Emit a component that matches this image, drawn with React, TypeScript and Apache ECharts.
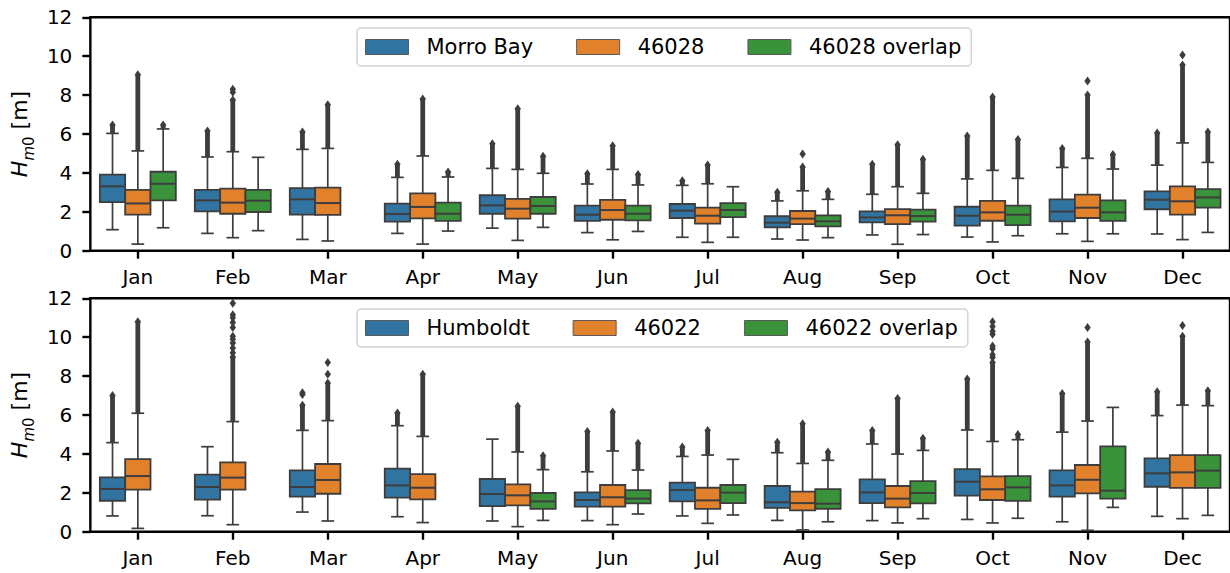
import { useEffect, useRef } from "react";
import * as echarts from "echarts";

const months = ["Jan", "Feb", "Mar", "Apr", "May", "Jun", "Jul", "Aug", "Sep", "Oct", "Nov", "Dec"];

// each box: [lower whisker, Q1, median, Q3, upper whisker]; null = no data that month
// fliers: top of the dense column of outliers above the upper whisker, null = none
// extra: isolated outliers as [month index, value]

// top panel
const morroBay = [
  [1.08, 2.5, 3.31, 3.91, 6.03], [0.89, 2.02, 2.59, 3.13, 4.82], [0.58, 1.85, 2.64, 3.22, 5.21],
  [0.89, 1.49, 1.89, 2.42, 3.77], [1.16, 1.9, 2.33, 2.85, 4.23], [0.93, 1.53, 1.85, 2.32, 3.43],
  [0.69, 1.68, 2.06, 2.4, 3.36], [0.6, 1.2, 1.44, 1.77, 2.56], [0.81, 1.46, 1.71, 2.02, 2.9],
  [0.7, 1.29, 1.8, 2.26, 3.69], [0.87, 1.51, 2.01, 2.64, 4.28], [0.86, 2.13, 2.62, 3.05, 4.4],
];
const morroBayFliers = [6.46, 6.15, 6.1, 4.45, 5.5, 3.95, 3.6, 3.0, 4.45, 5.9, 5.25, 6.05];

const buoy46028 = [
  [0.34, 1.85, 2.43, 3.13, 5.13], [0.67, 1.9, 2.47, 3.19, 5.09], [0.5, 1.84, 2.45, 3.24, 5.26],
  [0.34, 1.66, 2.25, 2.95, 4.87], [0.53, 1.65, 2.16, 2.66, 4.18], [0.56, 1.59, 2.09, 2.61, 4.18],
  [0.43, 1.39, 1.8, 2.21, 3.44], [0.55, 1.37, 1.65, 2.04, 3.08], [0.33, 1.37, 1.82, 2.14, 3.29],
  [0.45, 1.54, 1.97, 2.56, 4.13], [0.48, 1.68, 2.21, 2.88, 4.75], [0.57, 1.85, 2.54, 3.31, 5.54],
];
const buoy46028Fliers = [9.05, 7.75, 7.5, 7.8, 7.3, 5.4, 4.4, 4.3, 5.45, 7.9, 8.0, 9.55];
const buoy46028Extra = [[1, 8.15], [1, 8.3], [7, 4.97], [10, 8.73], [11, 10.06]];

const overlap46028 = [
  [1.18, 2.59, 3.44, 4.06, 6.26], [1.03, 1.99, 2.57, 3.13, 4.8], null,
  [1.01, 1.53, 1.9, 2.47, 3.79], [1.2, 1.9, 2.3, 2.76, 3.98], [0.99, 1.56, 1.9, 2.32, 3.38],
  [0.69, 1.73, 2.09, 2.45, 3.29], [0.67, 1.25, 1.51, 1.82, 2.64], [0.83, 1.49, 1.78, 2.11, 2.95],
  [0.77, 1.32, 1.85, 2.32, 3.72], [0.87, 1.53, 1.97, 2.59, 4.2], [0.94, 2.21, 2.74, 3.17, 4.54],
];
const overlap46028Fliers = [6.46, null, null, 4.05, 4.85, 3.92, null, 3.05, 4.7, 5.72, 4.95, 6.1];

// bottom panel
const humboldt = [
  [0.81, 1.59, 2.2, 2.79, 4.58], [0.82, 1.65, 2.3, 2.93, 4.37], [1.01, 1.8, 2.3, 3.15, 5.21],
  [0.77, 1.75, 2.38, 3.24, 5.45], [0.55, 1.32, 1.94, 2.71, 4.76], [0.57, 1.29, 1.63, 2.02, 3.08],
  [0.81, 1.56, 2.14, 2.52, 3.87], [0.58, 1.22, 1.51, 2.35, 4.06], [0.57, 1.47, 2.02, 2.69, 4.51],
  [0.63, 1.85, 2.57, 3.22, 5.23], [0.51, 1.8, 2.38, 3.15, 5.12], [0.79, 2.31, 3.0, 3.77, 5.97],
];
const humboldtFliers = [7.0, null, 6.5, 6.1, null, 5.15, 4.35, 4.6, 5.2, 7.85, 7.1, 7.2];
const humboldtExtra = [[2, 7.05], [2, 7.15]];

const buoy46022 = [
  [0.17, 2.16, 2.86, 3.73, 6.09], [0.36, 2.16, 2.78, 3.56, 5.66], [0.55, 1.95, 2.66, 3.48, 5.71],
  [0.47, 1.66, 2.26, 2.96, 4.9], [0.26, 1.35, 1.87, 2.43, 4.1], [0.36, 1.29, 1.77, 2.4, 4.15],
  [0.43, 1.17, 1.61, 2.26, 3.94], [0.09, 1.1, 1.47, 2.06, 3.51], [0.45, 1.25, 1.7, 2.35, 3.99],
  [0.45, 1.63, 2.18, 2.84, 4.64], [0.07, 1.97, 2.67, 3.43, 5.69], [0.67, 2.25, 3.05, 3.94, 6.51],
];
const buoy46022Fliers = [10.8, 8.98, 7.65, 8.1, 6.45, 6.15, 5.2, 5.55, 6.85, 8.7, 9.75, 10.05];
const buoy46022Extra = [
  [1, 9.2], [1, 9.45], [1, 9.7], [1, 9.9], [1, 10.05], [1, 10.5], [1, 10.75], [1, 11.0], [1, 11.15], [1, 11.75],
  [2, 8.1], [2, 8.7],
  [9, 8.95], [9, 9.1], [9, 9.4], [9, 9.55], [9, 10.15], [9, 10.3], [9, 10.55], [9, 10.8],
  [10, 10.5], [11, 10.6],
];

const overlap46022 = [
  null, null, null, null,
  [0.58, 1.17, 1.56, 1.99, 3.19], [0.91, 1.46, 1.7, 2.14, 3.17], [0.86, 1.47, 2.01, 2.4, 3.72],
  [0.51, 1.18, 1.44, 2.19, 3.67], [0.67, 1.46, 1.99, 2.6, 4.18], [0.69, 1.58, 2.28, 2.86, 4.73],
  [1.25, 1.7, 2.11, 4.39, 6.39], [0.84, 2.25, 3.14, 3.94, 6.48],
];
const overlap46022Fliers = [null, null, null, null, 3.9, 4.55, null, 4.1, 4.8, 5.0, null, 7.25];

const BLUE = "#3274a1";
const ORANGE = "#e1812c";
const GREEN = "#3a923a";
const GRAY = "#3d3d3d";
const FONT = "DejaVu Sans";

function diamond(x: number, y: number) {
  return {
    type: "polygon",
    shape: { points: [[x, y - 4.5], [x + 3.2, y], [x, y + 4.5], [x - 3.2, y]] },
    style: { fill: GRAY },
  };
}

function boxSeries(name: string, grid: number, slot: number, color: string, boxes: any[], fliers: any[]) {
  const data: number[][] = [];
  boxes.forEach((b, i) => {
    if (b) data.push([i, ...b, fliers[i] ?? b[4]]);
  });
  return {
    type: "custom",
    name,
    xAxisIndex: grid,
    yAxisIndex: grid,
    itemStyle: { color },
    encode: { x: 0, y: [1, 2, 3, 4, 5, 6] },
    data,
    renderItem: (_params: any, api: any) => {
      const i = api.value(0);
      const w = (api.size([1, 0])[0] * 0.8) / 3;
      const cx = api.coord([i, 0])[0] + slot * w;
      const py = (k: number) => api.coord([i, api.value(k)])[1];
      const lo = py(1), q1 = py(2), med = py(3), q3 = py(4), hi = py(5);
      const ln = { stroke: GRAY, lineWidth: 1.7 };
      const children: any[] = [];
      if (api.value(6) > api.value(5)) {
        const top = py(6);
        children.push({ type: "rect", shape: { x: cx - 2.4, y: top, width: 4.8, height: hi - top }, style: { fill: GRAY } });
        children.push(diamond(cx, top));
      }
      children.push(
        { type: "line", shape: { x1: cx, y1: q1, x2: cx, y2: lo }, style: ln },
        { type: "line", shape: { x1: cx, y1: q3, x2: cx, y2: hi }, style: ln },
        { type: "line", shape: { x1: cx - w / 4, y1: lo, x2: cx + w / 4, y2: lo }, style: ln },
        { type: "line", shape: { x1: cx - w / 4, y1: hi, x2: cx + w / 4, y2: hi }, style: ln },
        { type: "rect", shape: { x: cx - w / 2, y: q3, width: w, height: q1 - q3 }, style: { fill: color, stroke: GRAY, lineWidth: 1.8 } },
        { type: "line", shape: { x1: cx - w / 2, y1: med, x2: cx + w / 2, y2: med }, style: { stroke: GRAY, lineWidth: 2 } }
      );
      return { type: "group", children };
    },
  };
}

function extraSeries(grid: number, slot: number, points: number[][]) {
  return {
    type: "custom",
    xAxisIndex: grid,
    yAxisIndex: grid,
    data: points,
    renderItem: (_params: any, api: any) => {
      const i = api.value(0);
      const w = (api.size([1, 0])[0] * 0.8) / 3;
      const p = api.coord([i, api.value(1)]);
      return diamond(p[0] + slot * w, p[1]);
    },
  };
}

function legend(names: string[], top: number) {
  return {
    data: names,
    left: 357,
    top,
    orient: "horizontal",
    icon: "rect",
    itemWidth: 43,
    itemHeight: 15,
    itemGap: 43,
    padding: [8, 10, 8, 8],
    borderColor: "#d4d4d4",
    borderWidth: 1.5,
    borderRadius: 4,
    backgroundColor: "rgba(255,255,255,0.8)",
    selectedMode: false,
    itemStyle: { borderColor: "#5a5a5a", borderWidth: 1 },
    textStyle: { fontFamily: FONT, fontSize: 21, color: "#000", lineHeight: 22, padding: [0, 0, 0, 13] },
  };
}

function xAxis(grid: number) {
  return {
    gridIndex: grid,
    type: "category",
    data: months,
    axisLine: { show: false },
    axisTick: { show: true, alignWithLabel: true, length: 8, lineStyle: { color: "#000", width: 2.4 } },
    axisLabel: { interval: 0, fontFamily: FONT, fontSize: 20, color: "#000", margin: 16 },
    splitLine: { show: false },
  };
}

function yAxis(grid: number) {
  return {
    gridIndex: grid,
    type: "value",
    min: 0,
    max: 12,
    interval: 2,
    axisLine: { show: false },
    axisTick: { show: true, length: 8, lineStyle: { color: "#000", width: 2.4 } },
    axisLabel: { fontFamily: FONT, fontSize: 20, color: "#000", margin: 18 },
    splitLine: { show: false },
    name: "{h|H}{s|m}{z|0}{n| [m]}",
    nameLocation: "middle",
    nameGap: 52,
    nameTextStyle: {
      fontFamily: FONT,
      color: "#000",
      rich: {
        h: { fontFamily: FONT, fontSize: 22, fontStyle: "italic", lineHeight: 28, verticalAlign: "top", color: "#000" },
        s: { fontFamily: FONT, fontSize: 15, fontStyle: "italic", lineHeight: 14, verticalAlign: "bottom", color: "#000" },
        z: { fontFamily: FONT, fontSize: 15, lineHeight: 14, verticalAlign: "bottom", color: "#000" },
        n: { fontFamily: FONT, fontSize: 22, lineHeight: 28, verticalAlign: "top", color: "#000" },
      },
    },
  };
}

export default function App() {
  const chartRef = useRef<HTMLDivElement>(null);

  useEffect(() => {
    if (!chartRef.current) return;
    const chart = echarts.init(chartRef.current, null, { renderer: "svg" });

    const gridBase = { left: 88.5, width: 1150, height: 233.4, show: true, borderColor: "#000", borderWidth: 2.4, backgroundColor: "#fff" };

    chart.setOption({
      animation: false,
      backgroundColor: "#fff",
      grid: [
        { ...gridBase, top: 17.3 },
        { ...gridBase, top: 298.3 },
      ],
      legend: [
        legend(["Morro Bay", "46028", "46028 overlap"], 28),
        legend(["Humboldt", "46022", "46022 overlap"], 309),
      ],
      xAxis: [xAxis(0), xAxis(1)],
      yAxis: [yAxis(0), yAxis(1)],
      series: [
        boxSeries("Morro Bay", 0, -1, BLUE, morroBay, morroBayFliers),
        boxSeries("46028", 0, 0, ORANGE, buoy46028, buoy46028Fliers),
        boxSeries("46028 overlap", 0, 1, GREEN, overlap46028, overlap46028Fliers),
        extraSeries(0, 0, buoy46028Extra),
        boxSeries("Humboldt", 1, -1, BLUE, humboldt, humboldtFliers),
        boxSeries("46022", 1, 0, ORANGE, buoy46022, buoy46022Fliers),
        boxSeries("46022 overlap", 1, 1, GREEN, overlap46022, overlap46022Fliers),
        extraSeries(1, -1, humboldtExtra),
        extraSeries(1, 0, buoy46022Extra),
      ],
    } as any);

    return () => {
      chart.dispose();
    };
  }, []);

  return (
    <div
      ref={chartRef}
      style={{ position: "absolute", left: 0, top: 0, width: "1230px", height: "573px" }}
    />
  );
}
